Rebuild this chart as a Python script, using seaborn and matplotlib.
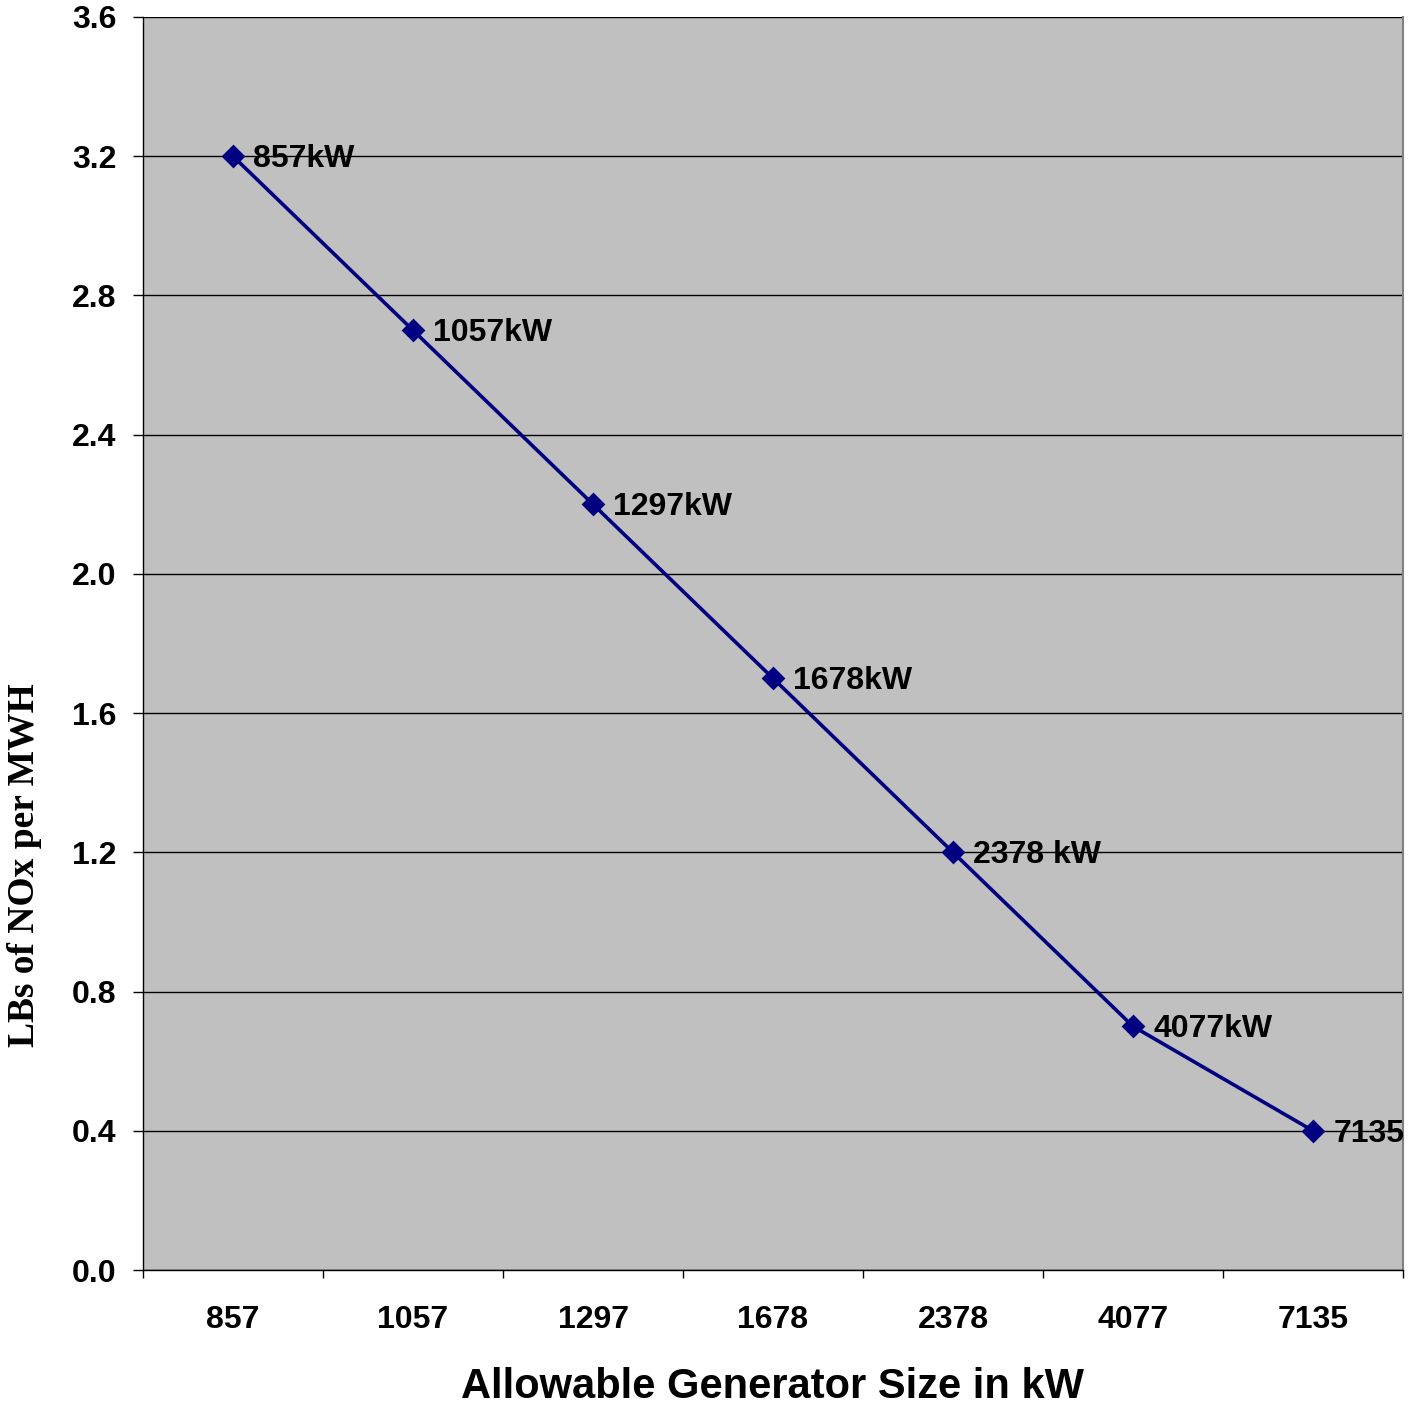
import matplotlib
matplotlib.use("Agg")
import matplotlib.pyplot as plt
import seaborn as sns
import numpy as np
from matplotlib.ticker import FixedLocator

categories = ["857", "1057", "1297", "1678", "2378", "4077", "7135"]
nox_values = [3.2, 2.7, 2.2, 1.7, 1.2, 0.7, 0.4]
point_labels = ["857kW", "1057kW", "1297kW", "1678kW", "2378 kW", "4077kW", "7135"]
y_ticks = [0.0, 0.4, 0.8, 1.2, 1.6, 2.0, 2.4, 2.8, 3.2, 3.6]

sns.set_style("white")
plt.rcParams['font.family'] = ['Liberation Sans', 'DejaVu Sans']
plt.rcParams['text.color'] = 'black'
plt.rcParams['axes.labelcolor'] = 'black'
plt.rcParams['xtick.color'] = 'black'
plt.rcParams['ytick.color'] = 'black'

fig = plt.figure(figsize=(14.19, 14.07), dpi=100)
ax = fig.add_axes([143/1419, 137/1407, 1260/1419, 1253/1407])
ax.set_facecolor("#C0C0C0")

sns.pointplot(x=categories, y=nox_values, color="#000080", markers="D",
              markersize=10, linewidth=2.6, ax=ax, zorder=5)

for i, (v, lab) in enumerate(zip(nox_values, point_labels)):
    ax.annotate(lab, (i, v), xytext=(14.5, -2), textcoords="offset points",
                va="center", ha="left", fontsize=23, fontweight="bold",
                color="black", annotation_clip=False, clip_on=False, zorder=6)

ax.set_ylim(0, 3.6)
ax.set_xlim(-0.5, 6.5)
ax.set_yticks(y_ticks)
ax.set_yticklabels([f"{t:.1f}" for t in y_ticks], fontsize=23, fontweight="bold")
ax.yaxis.grid(True, color="black", linewidth=1.0)
ax.xaxis.grid(False)
ax.set_axisbelow(True)

ax.set_xticks(range(len(categories)))
ax.set_xticklabels(categories, fontsize=23, fontweight="bold")
ax.xaxis.set_minor_locator(FixedLocator(np.arange(-0.5, 7.0, 1.0)))
ax.tick_params(axis="x", which="major", length=0, pad=25.5)
ax.tick_params(axis="x", which="minor", length=6, width=1.0, color="black", direction="out", bottom=True)
ax.tick_params(axis="y", which="major", length=7, width=1.0, color="black", direction="out", left=True, pad=12)

for s in ["left", "bottom"]:
    ax.spines[s].set_color("black")
    ax.spines[s].set_linewidth(1.0)
ax.spines["top"].set_visible(False)
ax.spines["right"].set_color("#808080")
ax.spines["right"].set_linewidth(1.5)

ax.set_xlabel("Allowable Generator Size in kW", fontsize=30, fontweight="bold")
ax.xaxis.set_label_coords(0.4996, -0.0935)
ax.xaxis.label.set_va("center")
ax.set_ylabel("LBs of NOx per MWH", fontsize=27, fontweight="bold",
              family=["Liberation Serif", "DejaVu Serif"])
ax.yaxis.set_label_coords(-0.0937, 0.323)
ax.yaxis.label.set_va("center")

fig.savefig("out.png", dpi=100)
